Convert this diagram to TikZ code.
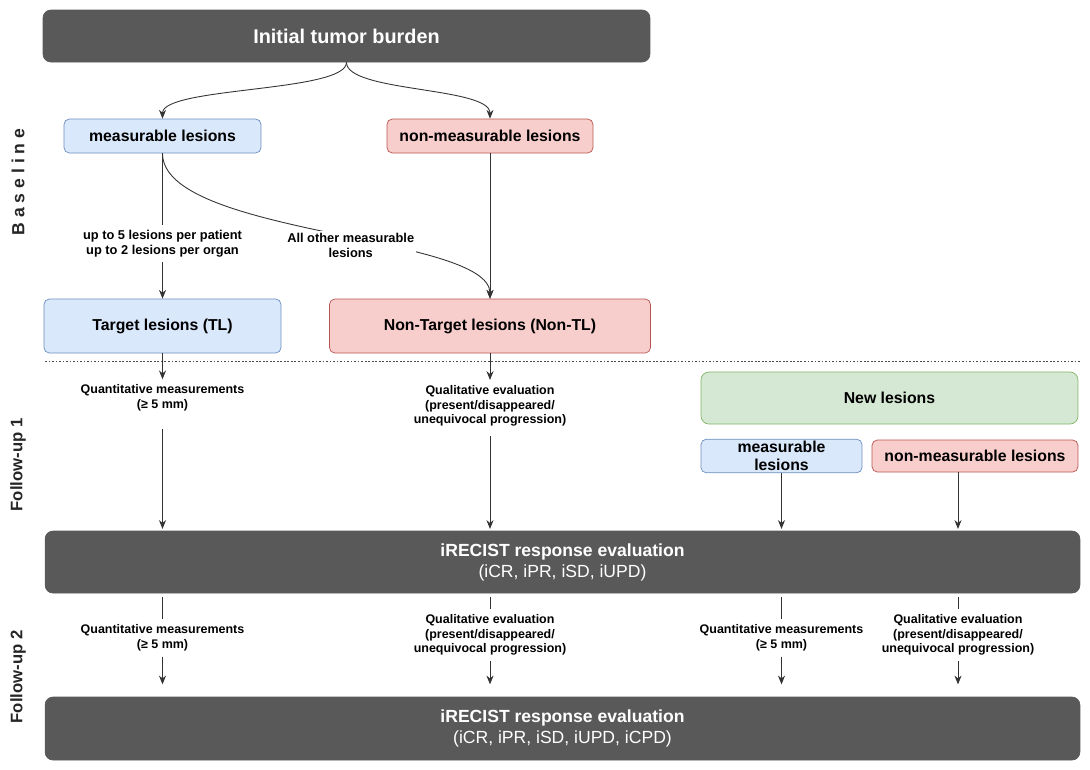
\documentclass[tikz,border=0pt]{standalone}
\usepackage{fontspec}
\setmainfont{Liberation Sans}
\usetikzlibrary{arrows.meta}
\definecolor{charcoal}{HTML}{595959}
\definecolor{paleblue}{HTML}{DAE8FC}
\definecolor{blueline}{HTML}{6C8EBF}
\definecolor{palerose}{HTML}{F8CECC}
\definecolor{roseline}{HTML}{B85450}
\definecolor{palemint}{HTML}{D5E8D4}
\definecolor{mintline}{HTML}{82B366}

\begin{document}
\begin{tikzpicture}[x=0.02cm, y=-0.02cm,
    darkbox/.style={fill=charcoal, draw=charcoal, rounded corners=4.5pt, text=white, align=center},
    bluebox/.style={fill=paleblue, draw=blueline, rounded corners=3pt, align=center, font=\bfseries\fontsize{9}{10.5}\selectfont},
    rosebox/.style={fill=palerose, draw=roseline, rounded corners=3pt, align=center, font=\bfseries\fontsize{9}{10.5}\selectfont},
    mintbox/.style={fill=palemint, draw=mintline, rounded corners=4.5pt, align=center, font=\bfseries\fontsize{9}{10.5}\selectfont},
    note/.style={align=center, inner sep=3pt, font=\bfseries\fontsize{7.1}{8.3}\selectfont},
    phase/.style={rotate=90, text=black!85, font=\bfseries\fontsize{9.5}{11}\selectfont},
    arr/.style={draw=black!80, line width=0.5pt, -{Stealth[length=5pt,width=4pt]}},
    link/.style={draw=black!80, line width=0.5pt}
  ]
  \useasboundingbox (0,0) rectangle (1090,769);

  % phase labels
  \node[phase, font=\bfseries\fontsize{10}{12}\selectfont] (baseline) at (18,182) {B a s e l i n e};
  \node[phase] (fu1) at (18,465) {Follow-up 1};
  \node[phase] (fu2) at (18,677) {Follow-up 2};

  % baseline
  \node[darkbox, minimum width=12.14cm, minimum height=1.04cm, font=\bfseries\fontsize{11.3}{13}\selectfont]
    (burden) at (346.5,36) {Initial tumor burden};
  \node[bluebox, minimum width=3.94cm, minimum height=0.68cm] (meas) at (162.5,136) {measurable lesions};
  \node[rosebox, minimum width=4.12cm, minimum height=0.68cm] (nonmeas) at (490,136) {non-measurable lesions};
  \node[bluebox, minimum width=4.74cm, minimum height=1.08cm] (target) at (162.5,326) {Target lesions (TL)};
  \node[rosebox, minimum width=6.42cm, minimum height=1.08cm] (nontarget) at (490,326) {Non-Target lesions (Non-TL)};

  \draw[arr] (burden.south) .. controls +(0,30) and +(0,-32) .. (meas.north);
  \draw[arr] (burden.south) .. controls +(0,30) and +(0,-32) .. (nonmeas.north);
  \draw[arr] (meas) -- (target)
    node[note, fill=white, pos=0.62, font=\bfseries\fontsize{7.3}{8.6}\selectfont] (rule) {up to 5 lesions per patient\\up to 2 lesions per organ};
  \draw[arr] (meas.south) .. controls +(0,82) and +(0,-64) .. (nontarget.north)
    node[note, fill=white, pos=0.55, yshift=-4pt, inner sep=1pt, font=\bfseries\fontsize{7.3}{8.6}\selectfont] (others) {All other measurable\\lesions};
  \draw[arr] (nonmeas) -- (nontarget);

  \draw[black!70, dash pattern=on 1pt off 1pt] (45,361) -- (1080,361);

  % follow-up 1
  \node[note] (quant1) at (162.5,398) {Quantitative measurements\\(≥ 5 mm)};
  \node[note] (qual1) at (490,406) {Qualitative evaluation\\(present/disappeared/\\unequivocal progression)};
  \node[mintbox, minimum width=7.54cm, minimum height=1.04cm] (newles) at (889.5,398) {New lesions};
  \node[bluebox, minimum width=3.22cm, minimum height=0.64cm, inner sep=1pt] (newmeas) at (781.5,456) {measurable\\lesions};
  \node[rosebox, minimum width=4.12cm, minimum height=0.64cm] (newnonmeas) at (975,456) {non-measurable lesions};
  \node[darkbox, minimum width=20.7cm, minimum height=1.24cm] (eval1) at (562.5,562)
    {{\bfseries\fontsize{10}{12.5}\selectfont iRECIST response evaluation}\\
     {\fontsize{10}{12.5}\selectfont (iCR, iPR, iSD, iUPD)}};

  % follow-up 2 labels
  \node[note] (quant2) at (162.5,638) {Quantitative measurements\\(≥ 5 mm)};
  \node[note] (qual2) at (490,635) {Qualitative evaluation\\(present/disappeared/\\unequivocal progression)};
  \node[note] (quant3) at (781.5,638) {Quantitative measurements\\(≥ 5 mm)};
  \node[note] (qual3) at (958,635) {Qualitative evaluation\\(present/disappeared/\\unequivocal progression)};
  \node[darkbox, minimum width=20.7cm, minimum height=1.26cm] (eval2) at (562.5,728.5)
    {{\bfseries\fontsize{10}{12.5}\selectfont iRECIST response evaluation}\\
     {\fontsize{10}{12.5}\selectfont (iCR, iPR, iSD, iUPD, iCPD)}};

  \draw[arr] (target) -- (quant1);
  \draw[arr] (nontarget) -- (qual1);
  \draw[arr, shorten <=7pt, shorten >=1pt] (quant1) -- (quant1 |- eval1.north);
  \draw[arr, shorten <=2pt, shorten >=1pt] (qual1) -- (qual1 |- eval1.north);
  \draw[arr, shorten >=1pt] (newmeas) -- (newmeas |- eval1.north);
  \draw[arr, shorten >=1pt] (newnonmeas.south -| qual3) -- (qual3 |- eval1.north);

  \foreach \lbl in {quant2, qual2, quant3, qual3} {
    \draw[link, shorten <=2pt] (\lbl |- eval1.south) -- (\lbl);
    \draw[arr, shorten >=7pt] (\lbl) -- (\lbl |- eval2.north);
  }
\end{tikzpicture}
\end{document}
